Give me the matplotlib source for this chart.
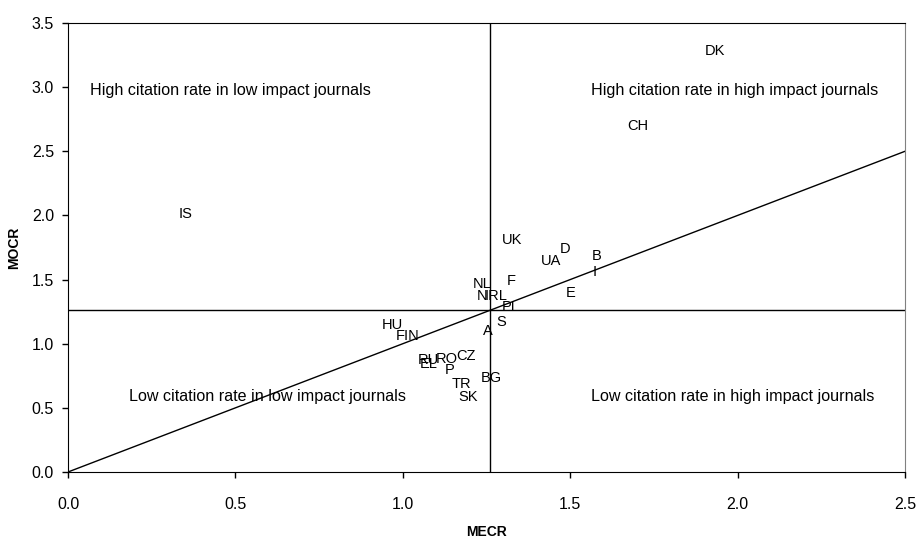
import numpy as np
import matplotlib
matplotlib.use('Agg')
import matplotlib.pyplot as plt

plt.rcParams['font.family'] = ['Liberation Sans', 'DejaVu Sans']

countries = ['DK', 'CH', 'IS', 'UK', 'D', 'UA', 'B', 'I', 'F', 'E', 'NL', 'N', 'IRL',
             'PL', 'S', 'A', 'HU', 'FIN', 'CZ', 'RO', 'RU', 'EL', 'P', 'TR', 'SK', 'BG']
mecr = [1.932, 1.703, 0.352, 1.326, 1.484, 1.443, 1.580, 1.574, 1.323, 1.502, 1.237, 1.237, 1.278,
        1.323, 1.293, 1.254, 0.968, 1.013, 1.189, 1.132, 1.075, 1.078, 1.141, 1.174, 1.195, 1.263]
mocr = [3.281, 2.697, 2.011, 1.809, 1.738, 1.645, 1.684, 1.559, 1.489, 1.395, 1.465, 1.372, 1.372,
        1.286, 1.169, 1.099, 1.146, 1.060, 0.904, 0.881, 0.873, 0.842, 0.795, 0.686, 0.585, 0.733]

mean_mecr = 1.26
mean_mocr = 1.265

quadrant_text = ['High citation rate in low impact journals',
                 'High citation rate in high impact journals',
                 'Low citation rate in low impact journals',
                 'Low citation rate in high impact journals']
quadrant_x = [0.484, 1.992, 0.597, 1.986]
quadrant_y = [2.97, 2.97, 0.592, 0.592]

fig = plt.figure(figsize=(9.2, 5.42), dpi=100)
fig.subplots_adjust(left=68/920, right=905/920, top=1-23/542, bottom=1-472/542)
ax = fig.add_subplot(111)

for name, x, y in zip(countries, mecr, mocr):
    ax.text(x, y, name, ha='center', va='center', fontsize=10.5)

for t, x, y in zip(quadrant_text, quadrant_x, quadrant_y):
    ax.text(x, y, t, ha='center', va='center', fontsize=11.6)

ax.axvline(mean_mecr, color='black', lw=1)
ax.axhline(mean_mocr, color='black', lw=1)
ax.plot([0, 2.5], [0, 2.5], color='black', lw=1)

ax.set_xlim(0, 2.5)
ax.set_ylim(0, 3.5)
ax.set_xticks(np.arange(0, 2.51, 0.5))
ax.set_yticks(np.arange(0, 3.51, 0.5))
ax.xaxis.set_major_formatter(matplotlib.ticker.FormatStrFormatter('%.1f'))
ax.yaxis.set_major_formatter(matplotlib.ticker.FormatStrFormatter('%.1f'))
ax.tick_params(labelsize=11.5, length=4, width=1, pad=6)
ax.tick_params(axis='x', pad=14)
ax.spines['right'].set_color('#808080')

ax.set_xlabel('MECR', fontsize=10, fontweight='bold', labelpad=9)
ax.set_ylabel('MOCR', fontsize=10, fontweight='bold', labelpad=8)

fig.savefig('out.png', dpi=100)
